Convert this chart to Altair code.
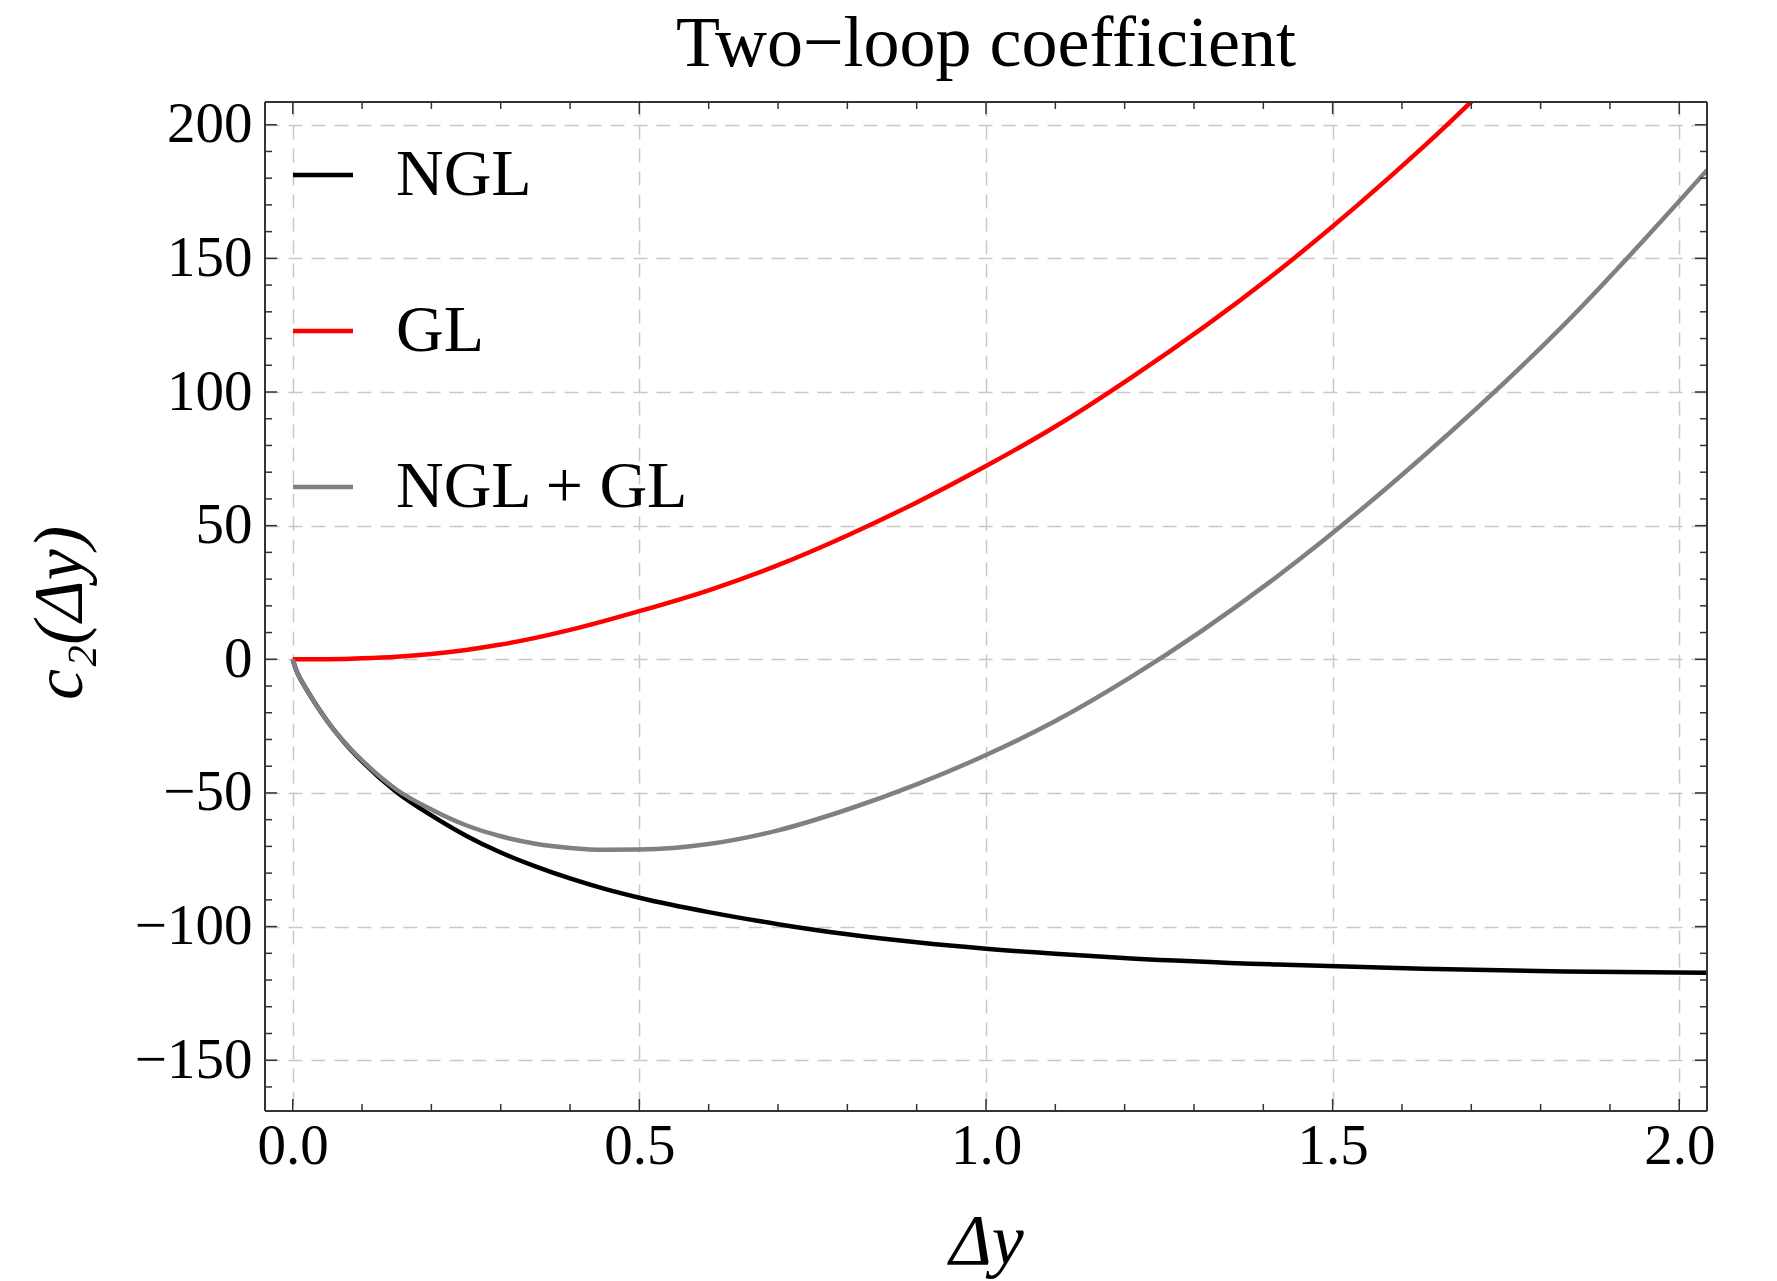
import altair as alt
import pandas as pd

# ---------------- data ----------------
dy = [0, 0.005, 0.01, 0.02, 0.03, 0.05, 0.075, 0.1, 0.15, 0.2, 0.25, 0.3, 0.35,
      0.4, 0.45, 0.5, 0.6, 0.7, 0.8, 0.9, 1.0, 1.1, 1.21, 1.42, 1.63, 1.835, 2.04]
ngl = [0, -4.0, -6.8, -11.3, -15.5, -23.2, -31.3, -38.2, -49.7, -58.4, -66.0, -72.3, -77.5,
       -82.0, -85.9, -89.2, -94.6, -99.1, -102.9, -105.9, -108.3, -110.2, -111.9,
       -114.2, -115.8, -116.8, -117.3]
gl = [0, 0, 0, 0.01, 0.02, 0.05, 0.15, 0.35, 0.95, 2.0, 3.5, 5.5, 8.0,
      11.0, 14.4, 18.0, 25.8, 35.2, 46.3, 58.7, 72.3, 87.1, 105.5,
      145.0, 191.5, 243.0, None]
ngl_gl = [0, -4.0, -6.8, -11.3, -15.5, -23.2, -31.1, -37.8, -48.8, -56.2, -62.1, -66.2, -69.0,
          -70.6, -71.3, -71.2, -69.1, -64.0, -56.2, -46.8, -35.8, -23.1, -6.5,
          31.0, 75.8, 125.5, 183.0]

series_names = ["NGL", "GL", "NGL + GL"]
series_colors = ["#000000", "#ff0000", "#808080"]
title_text = "Two−loop coefficient"

x_major = [0.0, 0.5, 1.0, 1.5, 2.0]
x_minor = [0.1, 0.2, 0.3, 0.4, 0.6, 0.7, 0.8, 0.9, 1.1, 1.2, 1.3, 1.4,
           1.6, 1.7, 1.8, 1.9]
y_major = [-150, -100, -50, 0, 50, 100, 150, 200]
y_minor = [-160, -140, -130, -120, -110, -90, -80, -70, -60, -40, -30, -20, -10,
           10, 20, 30, 40, 60, 70, 80, 90, 110, 120, 130, 140, 160, 170, 180, 190]

# ---------------- build tables ----------------
rows = []
for name, vals in zip(series_names, [ngl, gl, ngl_gl]):
    for xv, yv in zip(dy, vals):
        if yv is not None:
            rows.append({"x": xv, "y": yv, "series": name})
df = pd.DataFrame(rows)

W, H = 1442, 1009
FONT = "Liberation Serif"
MAJ, MIN = 12, 7
FRAME = "#333333"

xscale = alt.Scale(domain=[-0.04, 2.04], nice=False, zero=False)
yscale = alt.Scale(domain=[-169, 208.5], nice=False, zero=False)

xaxis = alt.Axis(values=x_major, format=".1f", title="Δy", grid=True, ticks=False,
                 domain=False, labelPadding=7, labelFont=FONT, labelFontSize=57,
                 labelColor="black", gridColor="#c8c8c8", gridDash=[14, 9], gridWidth=1.5,
                 titleFont=FONT, titleFontSize=72, titleFontWeight="normal",
                 titleFontStyle="italic", titleColor="black", titleX=W / 2, titleY=152,
                 titleAlign="center", titleBaseline="alphabetic", labelFlush=False)
yaxis = alt.Axis(values=y_major, format="d", title="c₂(Δy)", grid=True, ticks=False,
                 domain=False, labelPadding=13, labelFont=FONT, labelFontSize=57,
                 labelColor="black", gridColor="#c8c8c8", gridDash=[14, 9], gridWidth=1.5,
                 titleFont=FONT, titleFontSize=70, titleFontWeight="normal",
                 titleFontStyle="italic", titleColor="black", titleAngle=270,
                 titleX=-205, titleY=H / 2 + 6, titleAlign="center", titleBaseline="middle",
                 labelFlush=False)

legend = alt.Legend(title=None, orient="none", legendX=25, legendY=40,
                    symbolType="stroke", symbolStrokeWidth=4.5, symbolSize=3600,
                    labelFont=FONT, labelFontSize=66, labelColor="black", labelLimit=0,
                    rowPadding=90, labelOffset=40, padding=0)
color = alt.Color("series:N", scale=alt.Scale(domain=series_names, range=series_colors),
                  legend=legend)

layers = []
for name in series_names:
    layers.append(
        alt.Chart(df).transform_filter(alt.datum.series == name)
        .mark_line(strokeWidth=4.5, clip=True, interpolate="monotone")
        .encode(x=alt.X("x:Q", scale=xscale, axis=xaxis),
                y=alt.Y("y:Q", scale=yscale, axis=yaxis),
                color=color)
    )

tick_style = dict(color=FRAME, strokeWidth=1.5)
xmaj = pd.DataFrame({"x": x_major})
xmin = pd.DataFrame({"x": x_minor})
ymaj = pd.DataFrame({"y": y_major})
ymin = pd.DataFrame({"y": y_minor})

for d, L in [(xmaj, MAJ), (xmin, MIN)]:
    layers.append(alt.Chart(d).mark_rule(**tick_style).encode(
        x=alt.X("x:Q", scale=xscale), y=alt.value(H), y2=alt.value(H - L)))
    layers.append(alt.Chart(d).mark_rule(**tick_style).encode(
        x=alt.X("x:Q", scale=xscale), y=alt.value(0), y2=alt.value(L)))
for d, L in [(ymaj, MAJ), (ymin, MIN)]:
    layers.append(alt.Chart(d).mark_rule(**tick_style).encode(
        y=alt.Y("y:Q", scale=yscale), x=alt.value(0), x2=alt.value(L)))
    layers.append(alt.Chart(d).mark_rule(**tick_style).encode(
        y=alt.Y("y:Q", scale=yscale), x=alt.value(W), x2=alt.value(W - L)))

# frame
frame_df = pd.DataFrame({"k": [0]})
frame_style = dict(color=FRAME, strokeWidth=2)
layers += [
    alt.Chart(frame_df).mark_rule(**frame_style).encode(x=alt.value(0), x2=alt.value(W), y=alt.value(0)),
    alt.Chart(frame_df).mark_rule(**frame_style).encode(x=alt.value(0), x2=alt.value(W), y=alt.value(H)),
    alt.Chart(frame_df).mark_rule(**frame_style).encode(y=alt.value(0), y2=alt.value(H), x=alt.value(0)),
    alt.Chart(frame_df).mark_rule(**frame_style).encode(y=alt.value(0), y2=alt.value(H), x=alt.value(W)),
]

# title as text
title_df = pd.DataFrame({"t": [title_text]})
layers.append(alt.Chart(title_df).mark_text(font=FONT, fontSize=72, color="black",
                                            align="center", baseline="alphabetic")
              .encode(text="t:N", x=alt.value(W / 2), y=alt.value(-36)))

chart = alt.layer(*layers).properties(
    width=W, height=H,
    padding={"left": 265, "top": 102, "right": 70, "bottom": 170},
    autosize=alt.AutoSizeParams(type="none"),
).configure_view(stroke="transparent").configure(background="white")

chart.save("out.html", embed_options={"renderer": "svg", "actions": False})
